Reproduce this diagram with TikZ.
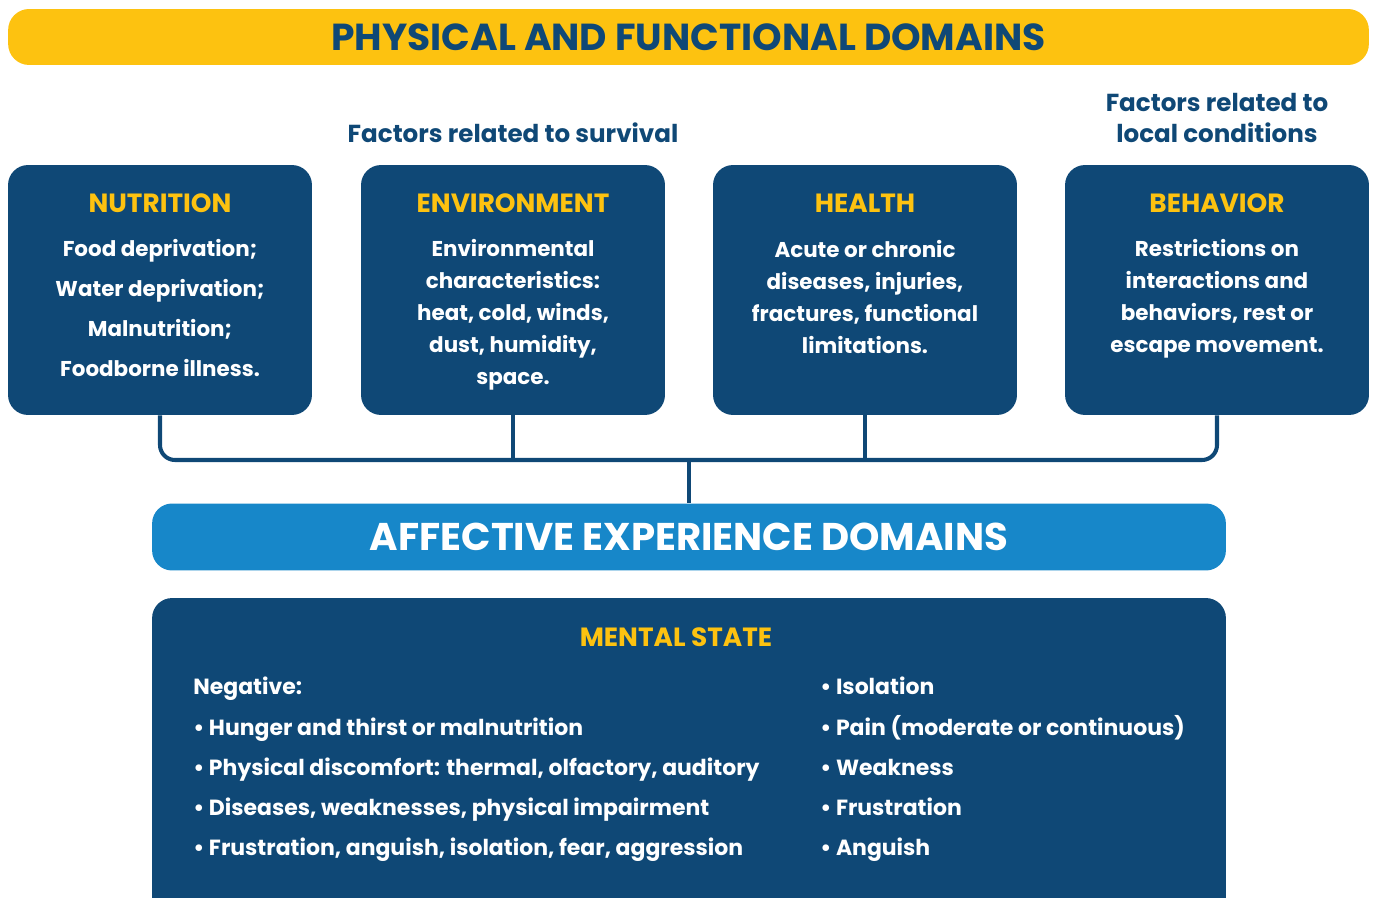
\documentclass[tikz,border=0pt]{standalone}
\usepackage{fontspec}
\setmainfont{Poppins}
\usetikzlibrary{positioning}
\definecolor{domyellow}{HTML}{FDC210}
\definecolor{domblue}{HTML}{0F4876}
\definecolor{affblue}{HTML}{1787C9}
\tikzset{
  topbar/.style={fill=domyellow, rounded corners=0.42cm, minimum width=27.22cm, minimum height=1.12cm, inner sep=0, text=domblue, font=\fontsize{21.4}{24}\selectfont\bfseries},
  grouplabel/.style={text=domblue, align=center, inner sep=0, font=\fontsize{14}{18.2}\selectfont\bfseries},
  domainbox/.style={fill=domblue, rounded corners=0.4cm, minimum width=6.08cm, minimum height=5cm, inner sep=0},
  boxtitle/.style={text=domyellow, inner sep=0, font=\fontsize{15}{17}\selectfont\bfseries},
  boxtext/.style={text=white, align=center, inner sep=0, anchor=north, font=\fontsize{12.2}{18.2}\selectfont\bfseries},
  link/.style={draw=domblue, line width=2.3pt, rounded corners=0.3cm},
  affbar/.style={fill=affblue, rounded corners=0.4cm, minimum width=21.48cm, minimum height=1.34cm, inner sep=0, text=white, font=\fontsize{22}{26}\selectfont\bfseries},
  listtext/.style={text=white, align=left, inner sep=0, anchor=north west, font=\fontsize{12.5}{22.8}\selectfont\bfseries},
}
\begin{document}
\begin{tikzpicture}[x=0.02cm, y=-0.02cm]
    \useasboundingbox (0,0) rectangle (1375,898);
    % top banner
    \node[topbar] (phys) at (688.5,37) {PHYSICAL AND FUNCTIONAL DOMAINS};
    % group labels
    \node[grouplabel] (surv) at (513,133) {Factors related to survival};
    \node[grouplabel] (local) at (1217,118) {Factors related to\\local conditions};
    % domain boxes
    \node[domainbox] (nut) at (160,290) {};
    \node[domainbox] (env) at (513,290) {};
    \node[domainbox] (hea) at (865,290) {};
    \node[domainbox] (beh) at (1217,290) {};
    % box titles
    \node[boxtitle] (nutT) at (160,203) {NUTRITION};
    \node[boxtitle] (envT) at (513,203) {ENVIRONMENT};
    \node[boxtitle] (heaT) at (865,203) {HEALTH};
    \node[boxtitle] (behT) at (1217,203) {BEHAVIOR};
    % box texts
    \node[boxtext, font=\fontsize{12.2}{22.8}\selectfont\bfseries] (nutB) at (160,239) {Food deprivation;\\Water deprivation;\\Malnutrition;\\Foodborne illness.};
    \node[boxtext] (envB) at (513,239) {Environmental\\characteristics:\\heat, cold, winds,\\dust, humidity,\\space.};
    \node[boxtext] (heaB) at (865,240) {Acute or chronic\\diseases, injuries,\\fractures, functional\\limitations.};
    \node[boxtext] (behB) at (1217,239) {Restrictions on\\interactions and\\behaviors, rest or\\escape movement.};
    % connectors
    \coordinate (hub) at (689,460);
    \node[affbar] (aff) at (689,537) {AFFECTIVE EXPERIENCE DOMAINS};
    \draw[link] (nut.south) |- (hub) -| (beh.south);
    \draw[link] (env.south) -- (env.south |- hub);
    \draw[link] (hea.south) -- (hea.south |- hub);
    \draw[link] (hub) -- (aff.north);
    % mental state
    \node[domainbox, minimum width=21.48cm, minimum height=7cm] (ment) at (689,773) {};
    \node[boxtitle] (mentT) at (676,637) {MENTAL STATE};
    \node[listtext] (neg) at (193,677) {Negative:\\\textbullet\ Hunger and thirst or malnutrition\\\textbullet\ Physical discomfort: thermal, olfactory, auditory\\\textbullet\ Diseases, weaknesses, physical impairment\\\textbullet\ Frustration, anguish, isolation, fear, aggression};
    \node[listtext] (negR) at (820,677) {\textbullet\ Isolation\\\textbullet\ Pain (moderate or continuous)\\\textbullet\ Weakness\\\textbullet\ Frustration\\\textbullet\ Anguish};
\end{tikzpicture}
\end{document}
